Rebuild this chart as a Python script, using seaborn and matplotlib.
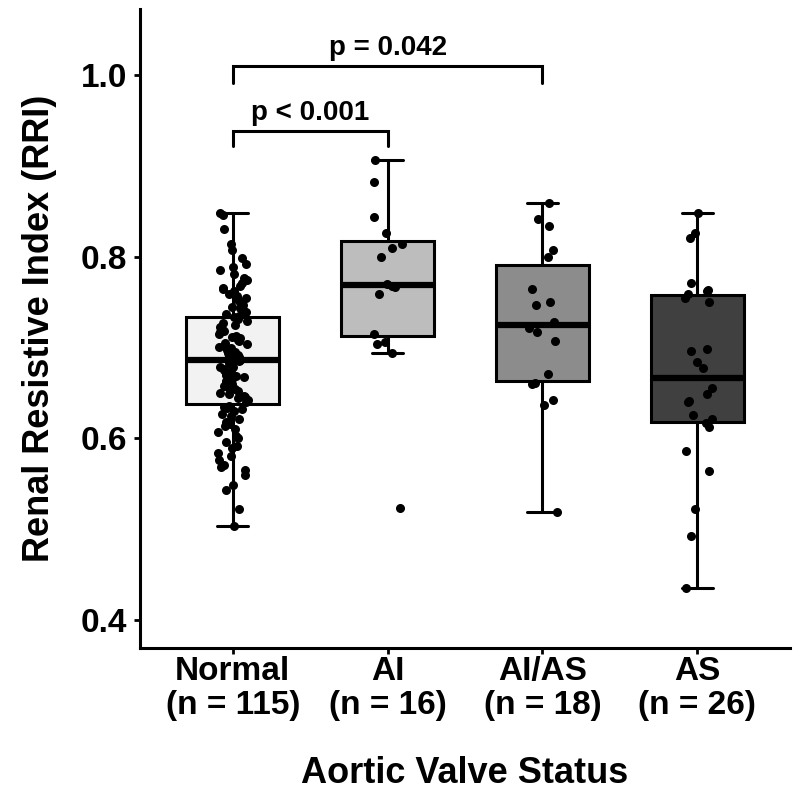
import matplotlib
matplotlib.use('Agg')
import matplotlib.pyplot as plt
import seaborn as sns
import numpy as np
import pandas as pd

# Groups and labels
groups = ['Normal', 'AI', 'AI/AS', 'AS']
tick_labels = ['Normal\n(n = 115)', 'AI\n(n = 16)', 'AI/AS\n(n = 18)', 'AS\n(n = 26)']
fill_colors = ['#F2F2F2', '#BDBDBD', '#8C8C8C', '#404040']

# RRI values (dense Normal group estimated)
rri_normal = [0.503, 0.522, 0.543, 0.548, 0.560, 0.565, 0.568, 0.570, 0.576, 0.580,
              0.584, 0.589, 0.592, 0.596, 0.600, 0.603, 0.607, 0.610, 0.613, 0.616,
              0.618, 0.621, 0.624, 0.627, 0.630, 0.632, 0.633, 0.634, 0.636,
              0.640, 0.642, 0.644, 0.645, 0.647, 0.649, 0.650, 0.652, 0.654, 0.655,
              0.657, 0.658, 0.660, 0.662, 0.663, 0.665, 0.667, 0.668, 0.670, 0.671,
              0.673, 0.675, 0.676, 0.678, 0.679, 0.681, 0.683, 0.685,
              0.686, 0.688, 0.689, 0.691, 0.692, 0.694, 0.695, 0.697, 0.699, 0.700,
              0.702, 0.704, 0.705, 0.707, 0.708, 0.710, 0.712, 0.713, 0.715, 0.717,
              0.718, 0.720, 0.722, 0.723, 0.725, 0.727, 0.729, 0.731, 0.733,
              0.735, 0.737, 0.739, 0.741, 0.743, 0.745, 0.747, 0.750, 0.752, 0.754,
              0.757, 0.759, 0.762, 0.764, 0.766, 0.768, 0.771, 0.774, 0.777, 0.781,
              0.785, 0.789, 0.792, 0.798, 0.807, 0.814, 0.830, 0.846, 0.848]
rri_ai = [0.523, 0.694, 0.704, 0.706, 0.715, 0.759, 0.767, 0.768, 0.770, 0.800,
          0.809, 0.814, 0.826, 0.844, 0.882, 0.906]
rri_aias = [0.519, 0.637, 0.642, 0.660, 0.661, 0.671, 0.707, 0.717, 0.721, 0.728,
            0.747, 0.750, 0.764, 0.800, 0.807, 0.834, 0.841, 0.859]
rri_as = [0.435, 0.492, 0.522, 0.564, 0.586, 0.612, 0.617, 0.621, 0.626, 0.640,
          0.641, 0.649, 0.655, 0.677, 0.684, 0.696, 0.698, 0.750, 0.755, 0.759,
          0.762, 0.763, 0.771, 0.821, 0.826, 0.848]

df = pd.DataFrame({
    'group': ['Normal'] * len(rri_normal) + ['AI'] * len(rri_ai)
             + ['AI/AS'] * len(rri_aias) + ['AS'] * len(rri_as),
    'rri': rri_normal + rri_ai + rri_aias + rri_as,
})

sns.set_theme(style='white')
plt.rcParams['font.family'] = ['Liberation Sans', 'DejaVu Sans']
plt.rcParams['font.weight'] = 'bold'
plt.rcParams['axes.labelweight'] = 'bold'
plt.rcParams['text.color'] = 'black'
plt.rcParams['axes.labelcolor'] = 'black'

fig, ax = plt.subplots(figsize=(8, 7.99), dpi=100)
fig.subplots_adjust(left=0.175, right=0.9875, bottom=0.189, top=0.9887)

sns.boxplot(data=df, x='group', y='rri', hue='group', order=groups, hue_order=groups,
            palette=fill_colors, width=0.6, showfliers=False, linecolor='black',
            linewidth=2.2, capwidths=0.2, medianprops=dict(linewidth=4.5),
            legend=False, ax=ax)

np.random.seed(3)
sns.stripplot(data=df, x='group', y='rri', order=groups, color='black', size=6.5,
              jitter=0.1, ax=ax)

# Significance brackets
brackets = [(0, 2, 1.0095, 0.9915, 'p = 0.042'), (0, 1, 0.938, 0.922, 'p < 0.001')]
for x0, x1, ytop, ybot, label in brackets:
    ax.plot([x0, x0, x1, x1], [ybot, ytop, ytop, ybot], color='black', lw=2.2,
            solid_joinstyle='miter', clip_on=False)
    ax.text((x0 + x1) / 2, ytop + 0.013, label, ha='center', va='baseline',
            fontsize=20, fontweight='bold', color='black')

ax.set_xlim(-0.6, 3.6)
ax.set_ylim(0.369, 1.0727)
ax.set_yticks([0.4, 0.6, 0.8, 1.0])
ax.set_yticklabels(['0.4', '0.6', '0.8', '1.0'])
ax.set_xticks(range(4))
ax.set_xticklabels(tick_labels, linespacing=1.12)

ax.set_xlabel('Aortic Valve Status', fontsize=26, fontweight='bold', labelpad=25)
ax.set_ylabel('Renal Resistive Index (RRI)', fontsize=26, fontweight='bold', labelpad=17)
ax.tick_params(axis='both', colors='black', length=4, width=2,
               direction='out', bottom=True, left=True)
ax.tick_params(axis='y', labelsize=24, pad=5)
ax.tick_params(axis='x', labelsize=24, pad=2)
for lab in ax.get_xticklabels() + ax.get_yticklabels():
    lab.set_fontweight('bold')

sns.despine(ax=ax)
for side in ['left', 'bottom']:
    ax.spines[side].set_linewidth(2.2)
    ax.spines[side].set_color('black')

plt.savefig('out.png', dpi=100)
